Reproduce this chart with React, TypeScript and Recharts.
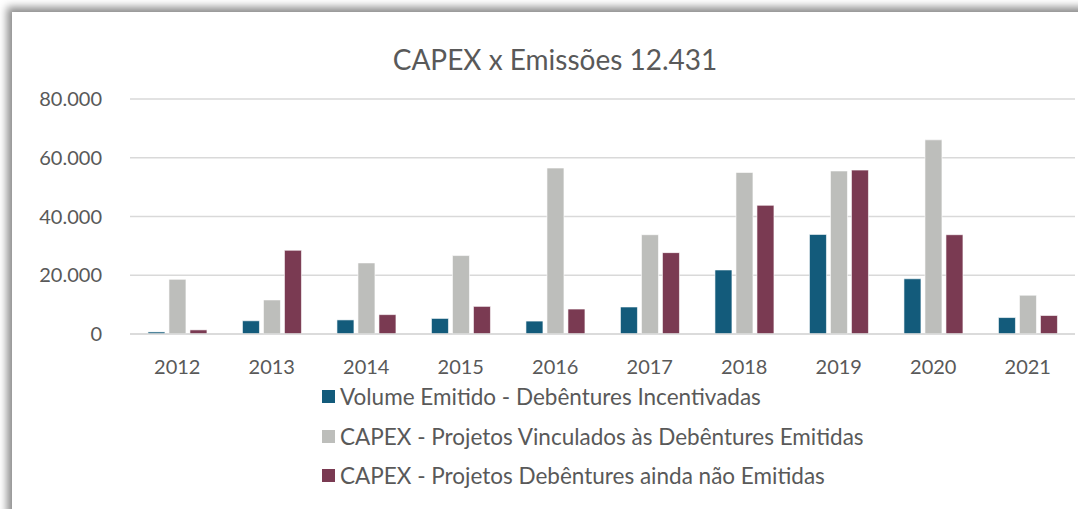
import { BarChart, Bar, XAxis, YAxis, CartesianGrid } from 'recharts';

const years = ['2012', '2013', '2014', '2015', '2016', '2017', '2018', '2019', '2020', '2021'];
const volumeEmitido = [700, 4500, 4800, 5300, 4400, 9200, 21800, 33900, 18800, 5600];
const capexVinculados = [18600, 11600, 24200, 26700, 56500, 33800, 55000, 55500, 66100, 13200];
const capexNaoEmitidas = [1400, 28500, 6600, 9400, 8500, 27700, 43800, 55800, 33800, 6300];
const yTicks = [0, 20000, 40000, 60000, 80000];

const series = [
  { key: 'volume', name: 'Volume Emitido - Debêntures Incentivadas', color: '#135B7B' },
  { key: 'vinculados', name: 'CAPEX - Projetos Vinculados às Debêntures Emitidas', color: '#BDBEBB' },
  { key: 'naoEmitidas', name: 'CAPEX - Projetos Debêntures ainda não Emitidas', color: '#7A3A52' },
];

const data = years.map((year, i) => ({
  year,
  volume: volumeEmitido[i],
  vinculados: capexVinculados[i],
  naoEmitidas: capexNaoEmitidas[i],
}));

const font = 'Lato, "Open Sans", sans-serif';
const fmt = (v: number) => v.toLocaleString('pt-BR');

export default function App() {
  return (
    <div style={{ position: 'fixed', left: 0, top: 0, width: 1078, height: 509, background: '#fff', overflow: 'hidden', fontFamily: font }}>
      <div
        style={{
          position: 'absolute',
          left: 12,
          top: 12,
          width: 1080,
          height: 510,
          background: '#fff',
          boxShadow: '-5px -5px 8px rgba(0,0,0,0.45)',
        }}
      >
        <div style={{ position: 'absolute', left: 0, width: 1086, top: 30, textAlign: 'center', fontSize: 28, color: '#595959' }}>
          CAPEX x Emissões 12.431
        </div>
        <BarChart
          width={1066}
          height={497}
          data={data}
          margin={{ top: 87, right: 3, left: 0, bottom: 145 }}
          barCategoryGap="19%"
          barGap={4}
        >
          <CartesianGrid vertical={false} stroke="#D9D9D9" strokeWidth={1.5} />
          <XAxis
            dataKey="year"
            axisLine={{ stroke: '#D9D9D9', strokeWidth: 1.5 }}
            tickLine={false}
            tickMargin={20}
            height={30}
            tick={{ fontSize: 20, fill: '#595959', fontFamily: font }}
          />
          <YAxis
            domain={[0, 80000]}
            ticks={yTicks}
            tickFormatter={fmt}
            axisLine={false}
            tickLine={false}
            width={118}
            tickMargin={22}
            tick={{ fontSize: 20, fill: '#595959', fontFamily: font }}
          />
          {series.map((s) => (
            <Bar key={s.key} dataKey={s.key} name={s.name} fill={s.color} stroke="#ffffff" strokeOpacity={0.6} isAnimationActive={false} />
          ))}
        </BarChart>
        <div style={{ position: 'absolute', left: 310, top: 365 }}>
          {series.map((s) => (
            <div key={s.key} style={{ display: 'flex', alignItems: 'center', height: 39.5, fontSize: 22.5, color: '#595959', whiteSpace: 'nowrap' }}>
              <span style={{ display: 'inline-block', width: 13, height: 13, background: s.color, marginRight: 5 }} />
              {s.name}
            </div>
          ))}
        </div>
      </div>
    </div>
  );
}
